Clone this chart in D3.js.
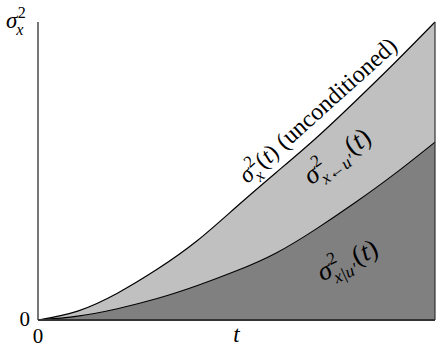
<!DOCTYPE html>
<html>
<head>
<meta charset="utf-8">
<script src="https://cdn.jsdelivr.net/npm/d3@7"></script>
<style>
  body { margin: 0; background: #fff; }
</style>
</head>
<body>
<div id="chart"></div>
<script>
// time grid (fraction of the horizontal extent)
const tValues = [0, 0.1, 0.2, 0.3, 0.4, 0.5, 0.6, 0.7, 0.8, 0.9, 1.0];
// unconditioned variance sigma_x^2(t)
const totalVar = [0, 0.03, 0.09, 0.17, 0.265, 0.38, 0.495, 0.61, 0.735, 0.865, 1.0];
// conditional variance sigma_{x|u'}^2(t)
const condVar = [0, 0.013, 0.038, 0.072, 0.115, 0.165, 0.225, 0.305, 0.395, 0.492, 0.597];

const xTicks = [0];
const yTicks = [0];
const xLabelPos = 0.5;

const width = 445, height = 354;
const margin = {top: 22, right: 10, bottom: 34, left: 38};
const serif = "'Liberation Serif', 'Times New Roman', 'DejaVu Serif', serif";

const data = tValues.map((t, i) => ({t, total: totalVar[i], cond: condVar[i]}));

const x = d3.scaleLinear()
    .domain([0, 1])
    .range([margin.left, width - margin.right]);

const y = d3.scaleLinear()
    .domain([0, 1])
    .range([height - margin.bottom, margin.top]);

const svg = d3.select("#chart").append("svg")
    .attr("width", width)
    .attr("height", height)
    .style("font-family", serif);

const curve = d3.curveNatural;

// light band between the two curves
svg.append("path")
    .datum(data)
    .attr("fill", "#c0c0c0")
    .attr("d", d3.area().curve(curve)
      .x(d => x(d.t)).y0(d => y(d.cond)).y1(d => y(d.total)));

// dark band under the conditional curve
svg.append("path")
    .datum(data)
    .attr("fill", "#808080")
    .attr("d", d3.area().curve(curve)
      .x(d => x(d.t)).y0(y(0)).y1(d => y(d.cond)));

svg.append("path")
    .datum(data)
    .attr("fill", "none")
    .attr("stroke", "#000")
    .attr("stroke-width", 1.2)
    .attr("d", d3.line().curve(curve).x(d => x(d.t)).y(d => y(d.total)));

svg.append("path")
    .datum(data)
    .attr("fill", "none")
    .attr("stroke", "#000")
    .attr("stroke-width", 1.1)
    .attr("d", d3.line().curve(curve).x(d => x(d.t)).y(d => y(d.cond)));

// right edge
svg.append("line")
    .attr("x1", x(1)).attr("x2", x(1))
    .attr("y1", y(1)).attr("y2", y(0))
    .attr("stroke", "#333").attr("stroke-width", 1.2);

// axes
svg.append("line")
    .attr("x1", x(0)).attr("x2", x(0))
    .attr("y1", y(1)).attr("y2", y(0))
    .attr("stroke", "#555").attr("stroke-width", 1.6);

svg.append("line")
    .attr("x1", x(0)).attr("x2", x(1))
    .attr("y1", y(0)).attr("y2", y(0))
    .attr("stroke", "#333").attr("stroke-width", 2);

svg.selectAll(".xtick")
  .data(xTicks)
  .join("text")
    .attr("x", d => x(d))
    .attr("y", y(0) + 23)
    .attr("text-anchor", "middle")
    .attr("font-size", 21)
    .text(d => d);

svg.selectAll(".ytick")
  .data(yTicks)
  .join("text")
    .attr("x", x(0) - 8)
    .attr("y", d => y(d) + 6)
    .attr("text-anchor", "end")
    .attr("font-size", 21)
    .text(d => d);

svg.append("text")
    .attr("x", x(xLabelPos))
    .attr("y", y(0) + 22)
    .attr("text-anchor", "middle")
    .attr("font-size", 23)
    .attr("font-style", "italic")
    .text("t");

// sigma with stacked super/subscript, followed by tail text
function mathLabel(g, sub, tail, size, ratio = 0.7) {
  const base = g.append("text")
      .attr("font-size", size)
      .attr("font-style", "italic")
      .text("σ");
  const w0 = base.node().getComputedTextLength();
  const s = size * ratio;
  const sup = g.append("text")
      .attr("x", w0 + 0.5)
      .attr("y", -size * 0.42)
      .attr("font-size", s)
      .text("2");
  const sb = g.append("text")
      .attr("x", w0 - 1)
      .attr("y", size * 0.3)
      .attr("font-size", s)
      .attr("font-style", "italic")
      .text(sub);
  const w1 = Math.max(sup.node().getComputedTextLength() + 0.5, sb.node().getComputedTextLength() - 1);
  let total = w0 + w1;
  if (tail) {
    const tl = g.append("text")
        .attr("x", total + 1)
        .attr("font-size", size);
    tl.append("tspan").text("(");
    tl.append("tspan").attr("font-style", "italic").text("t");
    tl.append("tspan").text(tail);
    total += 1 + tl.node().getComputedTextLength();
  }
  return total;
}

function placedLabel(cx, cy, angle, sub, tail, size, ratio) {
  const g = svg.append("g")
      .attr("transform", `translate(${cx},${cy}) rotate(${angle})`);
  const inner = g.append("g");
  const w = mathLabel(inner, sub, tail, size, ratio);
  inner.attr("transform", `translate(${-w / 2},0)`);
}

// y axis label
mathLabel(svg.append("g").attr("transform", "translate(6,28)"), "x", null, 23);

placedLabel(323, 116, -42, "x", ") (unconditioned)", 24);
placedLabel(342, 163, -36, "x←u′", ")", 27, 0.64);
placedLabel(351, 268, -25, "x|u′", ")", 27, 0.64);
</script>
</body>
</html>
